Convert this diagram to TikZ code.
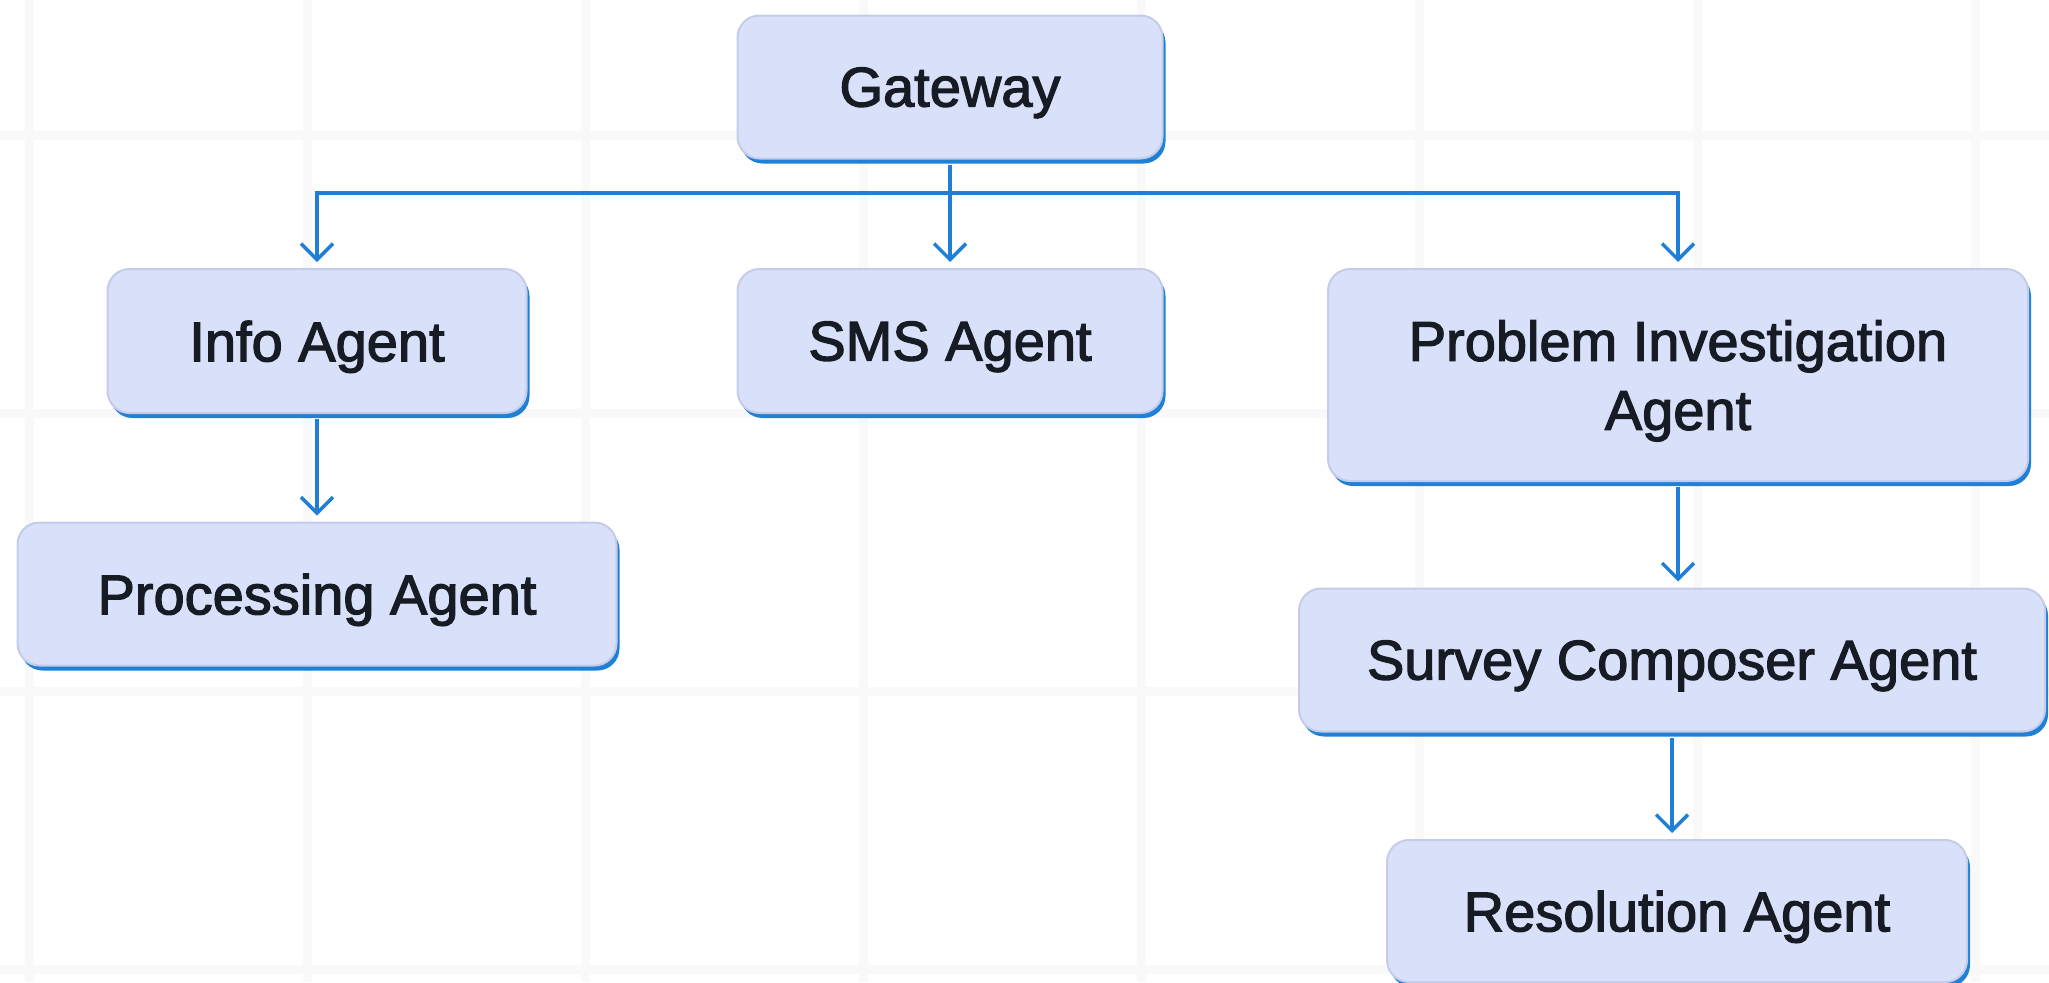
\documentclass[tikz,border=0pt]{standalone}
\usepackage{fontspec}
\newfontfamily\labelfont{Liberation Sans}[FakeBold=2.2]
\usetikzlibrary{arrows.meta,shadows}

\definecolor{boxfill}{HTML}{D9E0FA}
\definecolor{boxline}{HTML}{C6CCE8}
\definecolor{shadowblue}{HTML}{1E80D6}
\definecolor{flowblue}{HTML}{1F7FD6}
\definecolor{inkdark}{HTML}{161B24}
\definecolor{gridgray}{HTML}{F9F9FA}

\tikzset{
  agent/.style={rounded corners=11pt, fill=boxfill, draw=boxline, line width=1pt,
    text=inkdark, font=\labelfont\fontsize{28}{34.5}\selectfont, align=center,
    inner sep=0pt, text depth=0pt,
    drop shadow={shadow xshift=1.5pt, shadow yshift=-2.5pt, fill=shadowblue, opacity=1}},
  flow/.style={draw=flowblue, line width=1.75pt,
    -{Straight Barb[length=8pt,width=16pt]}, shorten <=2.5pt, shorten >=3pt},
  gridline/.style={draw=gridgray, line width=4.5pt}
}

\begin{document}
\begin{tikzpicture}[x=0.5pt,y=-0.5pt]
\useasboundingbox (0,0) rectangle (2049,982);

% background grid
\foreach \gx in {29,307,585,863,1141,1419,1697,1975}
  \draw[gridline] (\gx,0) -- (\gx,982);
\foreach \gy in {135,413,691,969}
  \draw[gridline] (0,\gy) -- (2049,\gy);

% agents
\node[agent, minimum width=212.5pt, minimum height=71.5pt] (gw)     at (950,87)   {Gateway};
\node[agent, minimum width=209.5pt, minimum height=72pt]   (info)   at (317,341)  {Info Agent};
\node[agent, minimum width=212.5pt, minimum height=72pt]   (sms)    at (950,341)  {SMS Agent};
\node[agent, minimum width=350pt,   minimum height=106pt]  (pi)     at (1678,375) {Problem Investigation\\Agent};
\node[agent, minimum width=299.5pt, minimum height=71.5pt] (proc)   at (317,594)  {Processing Agent};
\node[agent, minimum width=373pt,   minimum height=71.5pt] (survey) at (1672,660) {Survey Composer Agent};
\node[agent, minimum width=290pt,   minimum height=71pt]   (res)    at (1677,911) {Resolution Agent};

% connectors
\draw[flow] (gw.south) -- ++(0,33.5) -| (info.north);
\draw[flow] (gw.south) -- ++(0,33.5) -| (pi.north);
\draw[flow] (gw.south) -- (sms.north);
\draw[flow] (info.south) -- (info.south |- proc.north);
\draw[flow] (pi.south) -- (pi.south |- survey.north);
\draw[flow] (survey.south) -- (survey.south |- res.north);
\end{tikzpicture}
\end{document}
